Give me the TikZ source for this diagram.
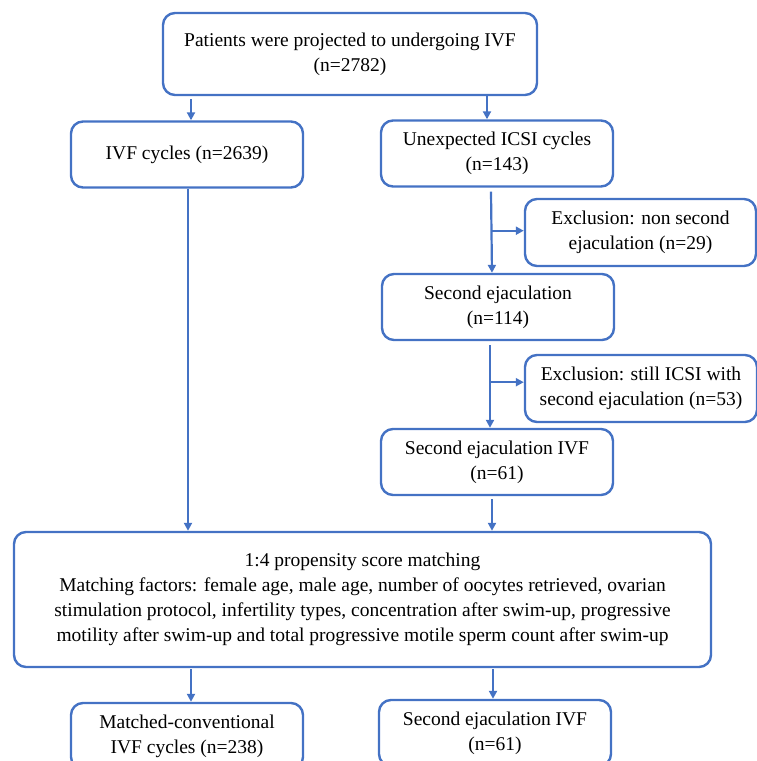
\documentclass[tikz,border=0pt]{standalone}
\usepackage{fontspec}
\setmainfont{Liberation Serif}
\usetikzlibrary{arrows.meta,calc}
\definecolor{lb}{HTML}{4472C4}
\begin{document}
\begin{tikzpicture}[x=1pt,y=-1pt,
  box/.style={draw=lb,line width=2.4pt,rounded corners=12pt,align=center,
    font=\fontsize{19.5}{25}\selectfont,inner sep=0pt,minimum width=232pt,minimum height=66pt},
  arr/.style={draw=lb,line width=2.2pt,-{Triangle[length=8pt,width=8pt]}}]
\useasboundingbox (0,0) rectangle (757,761);
\clip (0,0) rectangle (757,761);
\node[box,minimum width=374pt,minimum height=82pt] (top) at (350,54) {Patients were projected to undergoing IVF\\(n=2782)};
\node[box] (ivf) at (187,154.5) {IVF cycles (n=2639)};
\node[box] (icsi) at (497,153.5) {Unexpected ICSI cycles\\(n=143)};
\node[box,minimum width=231pt,minimum height=67pt] (exa) at (640.5,232.5) {Exclusion: non second\\ejaculation (n=29)};
\node[box] (sec) at (498,307) {Second ejaculation\\(n=114)};
\node[box,minimum height=67pt] (exb) at (641,388.5) {Exclusion: still ICSI with\\second ejaculation (n=53)};
\node[box] (sivf) at (497,462) {Second ejaculation IVF\\(n=61)};
\node[box,minimum width=697pt,minimum height=135pt] (psm) at (362.5,599.5) {1:4 propensity score matching\\Matching factors: female age, male age, number of oocytes retrieved, ovarian\\stimulation protocol, infertility types, concentration after swim-up, progressive\\motility after swim-up and total progressive motile sperm count after swim-up};
\node[box] (mat) at (187,736) {Matched-conventional\\IVF cycles (n=238)};
\node[box] (sivfb) at (495,733) {Second ejaculation IVF\\(n=61)};
% connectors
\draw[arr] ($(top.south)+(-159,3)$) -- ($(ivf.north)+(4,0)$);
\draw[arr] ($(top.south)+(137,0)$) -- ($(icsi.north)+(-10,0)$);
\draw[arr] ($(icsi.south)+(-6,4)$) -- ($(sec.north)+(-6,0)$);
\coordinate (ba) at ($(icsi.south)+(-6,43)$);
\draw[arr] (ba) -- (ba -| exa.west);
\draw[arr] ($(sec.south)+(-8,4)$) -- ($(sivf.north)+(-7,0)$);
\coordinate (bb) at ($(sec.south)+(-8,41)$);
\draw[arr] (bb) -- (bb -| exb.west);
\draw[arr] ($(ivf.south)+(1,0)$) -- ($(ivf.south |- psm.north)+(1,0)$);
\draw[arr] ($(sivf.south)+(-5,3)$) -- ($(sivf.south |- psm.north)+(-5,0)$);
\draw[arr] ($(psm.south)+(191-362.5,1)$) -- ($(mat.north)+(4,0)$);
\draw[arr] ($(psm.south)+(493-362.5,1)$) -- ($(sivfb.north)+(-2,0)$);
\end{tikzpicture}
\end{document}
